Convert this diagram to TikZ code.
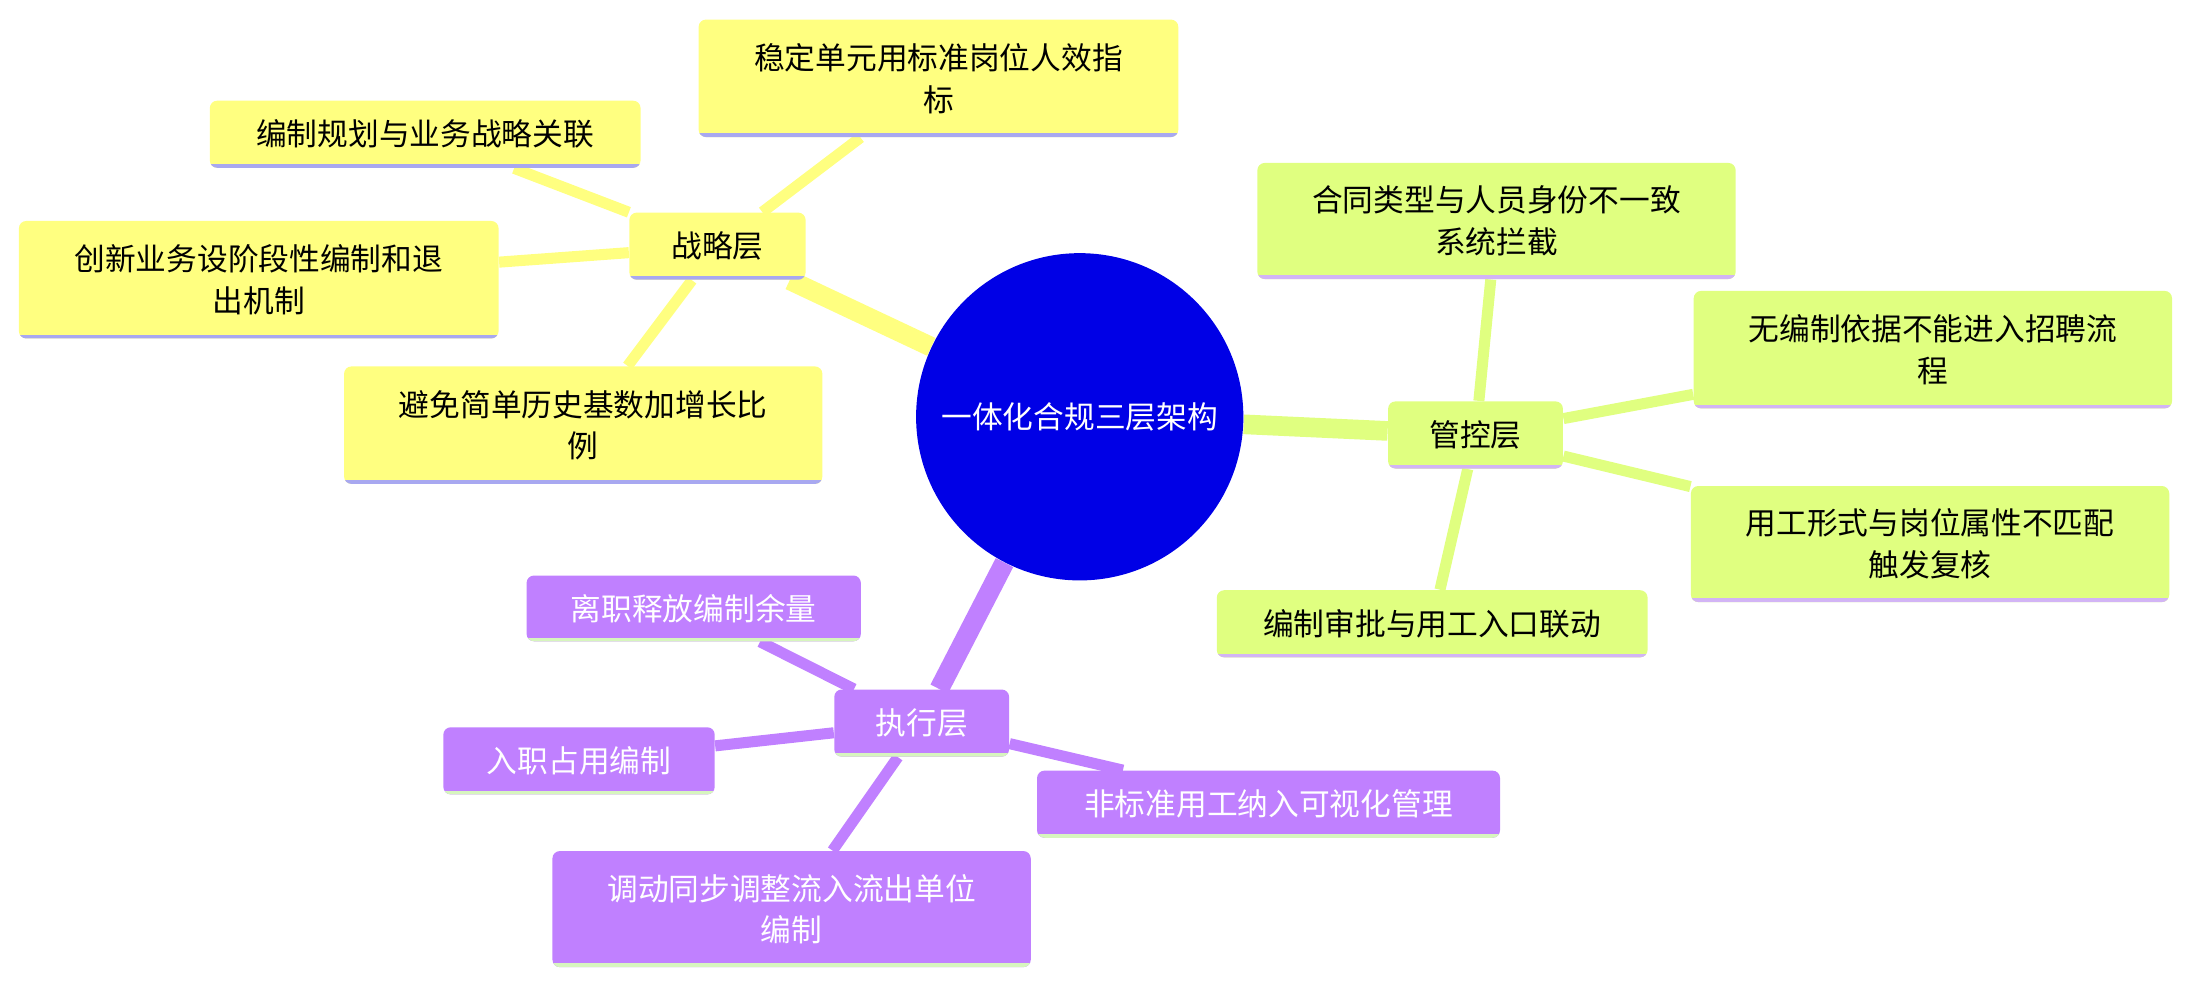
\documentclass[tikz,border=0pt]{standalone}
\usepackage{fontspec}
\setmainfont{Noto Sans CJK SC}
\usetikzlibrary{backgrounds}
\definecolor{coreblue}{RGB}{0,0,230}
\definecolor{stratyellow}{RGB}{255,255,128}
\definecolor{ctrlgreen}{RGB}{224,255,128}
\definecolor{execpurple}{RGB}{192,128,255}
\definecolor{lineblue}{RGB}{168,168,240}
\definecolor{linepurple}{RGB}{210,180,245}
\definecolor{linegreen}{RGB}{215,245,190}
\tikzset{
  topic/.style={rounded corners=3pt, inner sep=0pt, align=center,
    font=\fontsize{12.5}{17}\selectfont},
  uline/.style={path picture={\draw[line width=3pt,#1]
    (path picture bounding box.south west) -- (path picture bounding box.south east);}},
  strat/.style={topic, fill=stratyellow, uline=lineblue},
  ctrl/.style={topic, fill=ctrlgreen, uline=linepurple},
  exec/.style={topic, fill=execpurple, text=white, uline=linegreen},
  trunk/.style={line width=8pt},
  twig/.style={line width=4.5pt}
}
\begin{document}
\begin{tikzpicture}[x=0.02cm,y=-0.02cm]
    \useasboundingbox (0,0) rectangle (1568,706);
    % center
    \node[circle, fill=coreblue, text=white, minimum size=234*0.02cm, inner sep=0pt,
      font=\fontsize{12.5}{17}\selectfont] (core) at (772,298) {一体化合规三层架构};

    % strategy layer
    \node[strat, minimum width=126*0.02cm, minimum height=48*0.02cm] (strat) at (513,176) {战略层};
    \node[strat, minimum width=343*0.02cm, minimum height=84*0.02cm] (s1) at (671,56) {稳定单元用标准岗位人效指\\标};
    \node[strat, minimum width=308*0.02cm, minimum height=48*0.02cm] (s2) at (304,96) {编制规划与业务战略关联};
    \node[strat, minimum width=343*0.02cm, minimum height=84*0.02cm] (s3) at (185,200) {创新业务设阶段性编制和退\\出机制};
    \node[strat, minimum width=342*0.02cm, minimum height=84*0.02cm] (s4) at (417,304) {避免简单历史基数加增长比\\例};

    % control layer
    \node[ctrl, minimum width=125*0.02cm, minimum height=48*0.02cm] (ctrl) at (1055,311) {管控层};
    \node[ctrl, minimum width=342*0.02cm, minimum height=83*0.02cm] (c1) at (1070,158) {合同类型与人员身份不一致\\系统拦截};
    \node[ctrl, minimum width=342*0.02cm, minimum height=84*0.02cm] (c2) at (1382,250) {无编制依据不能进入招聘流\\程};
    \node[ctrl, minimum width=342*0.02cm, minimum height=83*0.02cm] (c3) at (1380,389) {用工形式与岗位属性不匹配\\触发复核};
    \node[ctrl, minimum width=308*0.02cm, minimum height=48*0.02cm] (c4) at (1024,446) {编制审批与用工入口联动};

    % execution layer
    \node[exec, minimum width=125*0.02cm, minimum height=48*0.02cm] (exec) at (659,517) {执行层};
    \node[exec, minimum width=239*0.02cm, minimum height=47*0.02cm] (e1) at (496,435) {离职释放编制余量};
    \node[exec, minimum width=194*0.02cm, minimum height=48*0.02cm] (e2) at (414,544) {入职占用编制};
    \node[exec, minimum width=331*0.02cm, minimum height=48*0.02cm] (e3) at (907,575) {非标准用工纳入可视化管理};
    \node[exec, minimum width=342*0.02cm, minimum height=83*0.02cm] (e4) at (566,650) {调动同步调整流入流出单位\\编制};

    \begin{scope}[on background layer]
      \draw[trunk, stratyellow] (core) -- (strat);
      \draw[trunk, ctrlgreen] (core) -- (ctrl);
      \draw[trunk, execpurple] (core) -- (exec);
      \foreach \n in {s1,s2,s3,s4} \draw[twig, stratyellow] (strat) -- (\n);
      \foreach \n in {c1,c2,c3,c4} \draw[twig, ctrlgreen] (ctrl) -- (\n);
      \foreach \n in {e1,e2,e3,e4} \draw[twig, execpurple] (exec) -- (\n);
    \end{scope}
\end{tikzpicture}
\end{document}
